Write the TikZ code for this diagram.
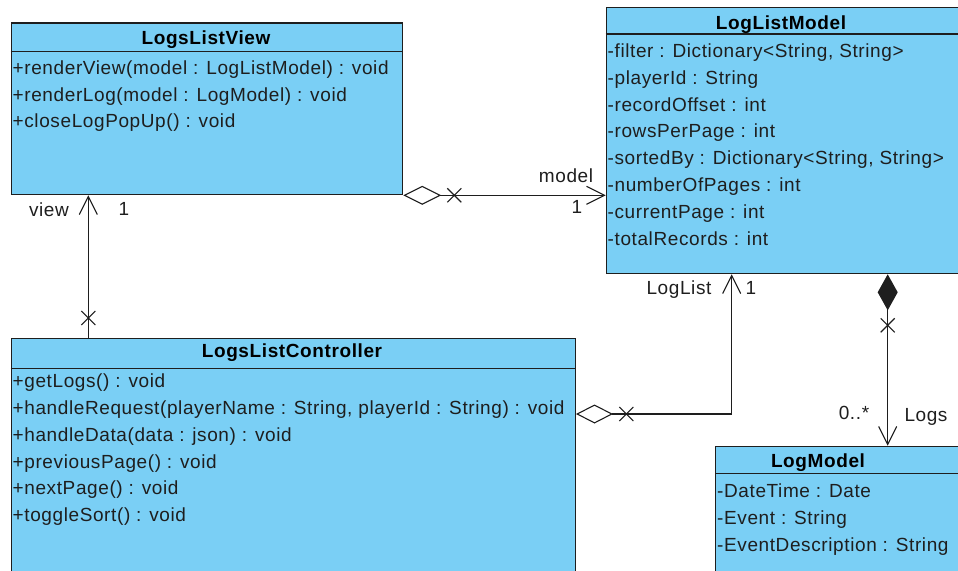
\documentclass[tikz,border=0pt]{standalone}
\usepackage{fontspec}
\setmainfont{Liberation Sans}[LetterSpace=3.2]
\usetikzlibrary{arrows.meta,calc}
\definecolor{umlblue}{RGB}{122,207,245}
\definecolor{ink}{RGB}{30,30,30}
\tikzset{
  classbox/.style={draw=ink, fill=umlblue, line width=1.3pt, rectangle, inner sep=0pt, anchor=north west},
  sepline/.style={draw=ink, line width=1.3pt},
  member/.style={anchor=base west, inner sep=0pt, text=ink, font=\fontsize{19}{22}\selectfont},
  classname/.style={anchor=base, inner sep=0pt, text=black, font=\fontsize{19}{22}\selectfont\bfseries},
  lbl/.style={anchor=base, inner sep=0pt, text=ink, font=\fontsize{19}{22}\selectfont},
  conn/.style={draw=ink, line width=1.1pt, line join=miter},
  barb/.style={-{Straight Barb[length=18pt,width=18pt]}},
  xmark/.pic={\draw[conn] (-7,-7) -- (7,7) (-7,7) -- (7,-7);}
}
\begin{document}
\begin{tikzpicture}[x=1pt,y=-1pt]
\useasboundingbox (0,0) rectangle (958,570);
\clip (0,0) rectangle (958,570);

% ---- LogsListView
\node[classbox, minimum width=391.5pt, minimum height=171.7pt] (view) at (10.5,22.3) {};
\draw[sepline] ($(view.north west)+(0,29.4)$) -- ($(view.north east)+(0,29.4)$);
\node[classname] (viewT) at (206,44.5) {LogsListView};
\node[member] (v1) at (12.5,74.5) {+renderView(model : LogListModel) : void};
\node[member] (v2) at (12.5,101) {+renderLog(model : LogModel) : void};
\node[member] (v3) at (12.5,127.5) {+closeLogPopUp() : void};

% ---- LogListModel
\node[classbox, minimum width=400pt, minimum height=266.3pt] (llm) at (605.7,6.7) {};
\draw[sepline] ($(llm.north west)+(0,27.3)$) -- ($(llm.north east)+(0,27.3)$);
\node[classname] (llmT) at (781,29.5) {LogListModel};
\node[member] (m1) at (607.5,57) {-filter : Dictionary<String, String>};
\node[member] (m2) at (607.5,84) {-playerId : String};
\node[member] (m3) at (607.5,111) {-recordOffset : int};
\node[member] (m4) at (607.5,137.5) {-rowsPerPage : int};
\node[member] (m5) at (607.5,164) {-sortedBy : Dictionary<String, String>};
\node[member] (m6) at (607.5,191) {-numberOfPages : int};
\node[member] (m7) at (607.5,218) {-currentPage : int};
\node[member] (m8) at (607.5,245) {-totalRecords : int};

% ---- LogsListController
\node[classbox, minimum width=564.2pt, minimum height=300pt] (ctrl) at (10.5,337.5) {};
\draw[sepline] ($(ctrl.north west)+(0,30.9)$) -- ($(ctrl.north east)+(0,30.9)$);
\node[classname] (ctrlT) at (292,357.5) {LogsListController};
\node[member] (c1) at (12.5,387) {+getLogs() : void};
\node[member] (c2) at (12.5,414) {+handleRequest(playerName : String, playerId : String) : void};
\node[member] (c3) at (12.5,441) {+handleData(data : json) : void};
\node[member] (c4) at (12.5,468) {+previousPage() : void};
\node[member] (c5) at (12.5,494) {+nextPage() : void};
\node[member] (c6) at (12.5,521) {+toggleSort() : void};

% ---- LogModel
\node[classbox, minimum width=300pt, minimum height=200pt] (lm) at (715,445.7) {};
\draw[sepline] ($(lm.north west)+(0,27.6)$) -- ($(lm.north east)+(0,27.6)$);
\node[classname] (lmT) at (818,467.5) {LogModel};
\node[member] (l1) at (717,497) {-DateTime : Date};
\node[member] (l2) at (717,524) {-Event : String};
\node[member] (l3) at (717,551) {-EventDescription : String};

% ---- connector end points
\coordinate (aggA) at (view.south east);
\coordinate (aggB) at (view.south east -| llm.west);
\coordinate (asA) at ($(ctrl.north west)+(77.8,0)$);
\coordinate (asB) at ($(view.south west)+(77.8,0)$);
\coordinate (lstA) at ($(ctrl.north east)+(0,76.5)$);
\coordinate (lstB) at ($(llm.south west)+(126,0)$);
\coordinate (lstC) at (lstA -| lstB);
\coordinate (cmpA) at ($(llm.south west)+(282,0)$);
\coordinate (cmpB) at (cmpA |- lm.north);

% ---- view -> model (aggregation)
\draw[conn, {Diamond[open,length=38pt,width=19pt]}-{Straight Barb[length=18pt,width=18pt]}]
  (aggA) -- (aggB);
\pic at ($(aggA)+(51,0)$) {xmark};
\node[lbl] (lModel) at (566,182) {model};
\node[lbl] (lModelM) at (577,213) {1};

% ---- controller -> view (association)
\draw[conn, barb] (asA) -- (asB);
\pic at ($(asA)+(0,-19.5)$) {xmark};
\node[lbl] (lView) at (49,216.5) {view};
\node[lbl] (lViewM) at (124,215) {1};

% ---- controller -> model list (aggregation)
\draw[conn, {Diamond[open,length=37pt,width=19pt]}-] (lstA) -- (lstC);
\draw[conn, barb] (lstC) -- (lstB);
\pic at ($(lstA)+(50.3,0)$) {xmark};
\node[lbl] (lLogList) at (679,294.5) {LogList};
\node[lbl] (lLogListM) at (751,294.5) {1};

% ---- model list -> log entries (composition)
\draw[conn, {Diamond[length=36pt,width=20pt]}-{Straight Barb[length=18pt,width=18pt]}]
  (cmpA) -- (cmpB);
\pic at ($(cmpA)+(0,51)$) {xmark};
\node[lbl] (lZero) at (854,419.5) {0..*};
\node[lbl] (lLogs) at (926,421) {Logs};
\end{tikzpicture}
\end{document}
